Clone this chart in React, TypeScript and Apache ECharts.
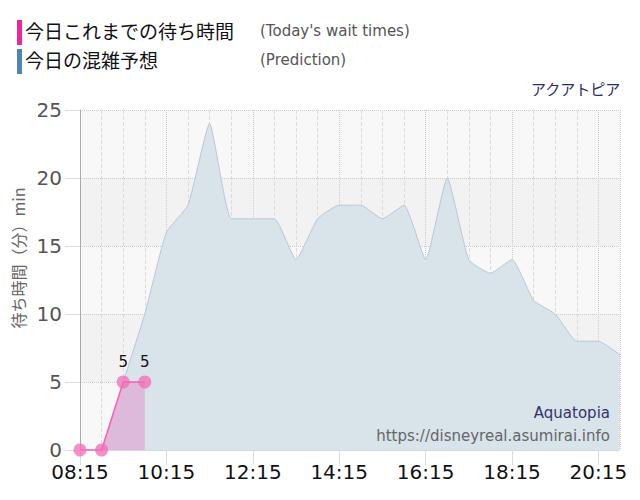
import { useEffect, useRef } from 'react';
import * as echarts from 'echarts';

// 08:15 からの経過分
const START_MIN = 8 * 60 + 15;
const predictTimes = [0, 30, 60, 90, 120, 150, 180, 210, 240, 270, 300, 330, 360, 390, 420, 450, 480, 510, 540, 570, 600, 630, 660, 690, 720, 750];
const predictValues = [0, 0, 5, 10, 16, 18, 24, 17, 17, 17, 14, 17, 18, 18, 17, 18, 14, 20, 14, 13, 14, 11, 10, 8, 8, 7];
const waitTimes = [0, 30, 60, 90];
const waitValues = [0, 0, 5, 5];
const waitLabels = [false, false, true, true];

const fmtTime = (v: number) => {
  const m = START_MIN + v;
  const h = Math.floor(m / 60);
  const mm = m % 60;
  return `${String(h).padStart(2, '0')}:${String(mm).padStart(2, '0')}`;
};

const App = () => {
  const chartDom = useRef<HTMLDivElement>(null);

  useEffect(() => {
    const chart = echarts.init(chartDom.current, null, { renderer: 'svg' });
    const jp = '"Noto Sans CJK JP", sans-serif';
    const dv = '"DejaVu Sans", sans-serif';

    const option = {
      animation: false,
      grid: { left: 80, right: 20, top: 110, bottom: 50 },
      xAxis: {
        type: 'value',
        min: 0,
        max: 750,
        interval: 120,
        axisLine: { show: true, lineStyle: { color: '#d0d0d0', type: 'dotted' } },
        axisTick: { show: true, length: 15, lineStyle: { color: '#dddddd' } },
        axisLabel: { formatter: fmtTime, fontSize: 20, color: '#111', fontFamily: dv, margin: 12 },
        splitLine: { show: true, lineStyle: { color: '#cccccc', type: 'dotted' } },
        minorTick: { show: false, splitNumber: 4 },
        minorSplitLine: { show: true, lineStyle: { color: '#dcdcdc', type: 'dashed' } },
      },
      yAxis: {
        type: 'value',
        min: 0,
        max: 25,
        interval: 5,
        axisLine: { show: true, lineStyle: { color: '#aaaaaa' } },
        axisTick: { show: true, length: 15, lineStyle: { color: '#dddddd' } },
        axisLabel: { fontSize: 20, color: '#555', fontFamily: dv, margin: 18 },
        splitLine: { show: true, lineStyle: { color: '#cccccc', type: 'dotted' } },
        splitArea: { show: true, areaStyle: { color: ['#f8f8f8', '#f2f2f2'] } },
      },
      series: [
        {
          name: 'prediction',
          type: 'line',
          smooth: 0.15,
          symbol: 'none',
          data: predictTimes.map((t, i) => [t, predictValues[i]]),
          lineStyle: { color: '#b9c7d3', width: 1 },
          areaStyle: { color: '#d9e3ea', opacity: 1 },
          z: 2,
        },
        {
          name: 'wait',
          type: 'line',
          symbol: 'circle',
          symbolSize: 13,
          data: waitTimes.map((t, i) => ({
            value: [t, waitValues[i]],
            label: { show: waitLabels[i] },
          })),
          lineStyle: { color: '#ff5cb0', width: 1.5 },
          itemStyle: { color: 'rgba(240,110,180,0.75)' },
          areaStyle: { color: '#ddbadb', opacity: 1 },
          label: { position: 'top', distance: 6, fontSize: 15, color: '#111', fontFamily: dv },
          z: 3,
        },
      ],
      graphic: [
        { type: 'rect', left: 17, top: 20, shape: { width: 5, height: 25 }, style: { fill: '#f0259a' } },
        { type: 'rect', left: 17, top: 49, shape: { width: 5, height: 25 }, style: { fill: '#4a86b8' } },
        { type: 'text', left: 25, top: 21, style: { text: '今日これまでの待ち時間', fontSize: 19, fill: '#111', fontFamily: jp } },
        { type: 'text', left: 25, top: 50, style: { text: '今日の混雑予想', fontSize: 19, fill: '#111', fontFamily: jp } },
        { type: 'text', left: 260, top: 23, style: { text: "(Today's wait times)", fontSize: 15, fill: '#555', fontFamily: dv } },
        { type: 'text', left: 260, top: 52, style: { text: '(Prediction)', fontSize: 15, fill: '#555', fontFamily: dv } },
        { type: 'text', right: 19, top: 81, style: { text: 'アクアトピア', fontSize: 15, fill: '#2b2b5e', fontFamily: jp } },
        { type: 'text', right: 30, top: 405, z: 10, style: { text: 'Aquatopia', fontSize: 15, fill: '#33336b', fontFamily: dv } },
        { type: 'text', right: 30, top: 428, z: 10, style: { text: 'https://disneyreal.asumirai.info', fontSize: 15, fill: '#666', fontFamily: dv } },
        {
          type: 'text',
          x: 18,
          y: 258,
          rotation: Math.PI / 2,
          style: { text: '待ち時間（分）min', fontSize: 16, fill: '#666', fontFamily: jp, align: 'center', verticalAlign: 'middle' },
        },
      ],
    };

    chart.setOption(option);
    return () => {
      chart.dispose();
    };
  }, []);

  return (
    <div style={{ position: 'fixed', left: 0, top: 0, width: 640, height: 500, background: '#fff' }}>
      <div ref={chartDom} style={{ width: 640, height: 500 }} />
    </div>
  );
};

export default App;
